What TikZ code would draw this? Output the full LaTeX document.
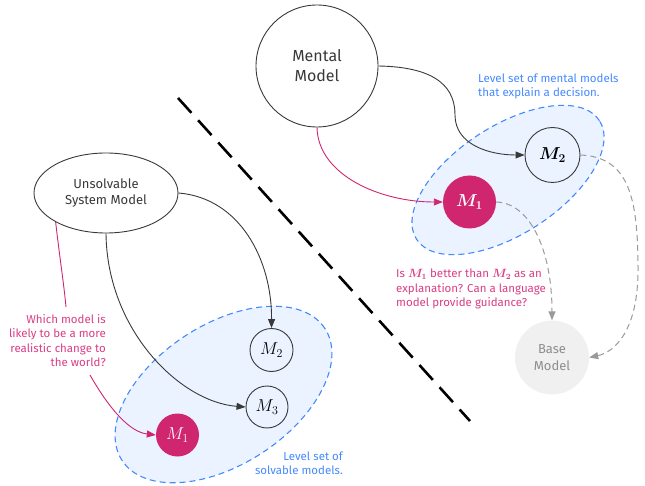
\documentclass[tikz,border=0pt]{standalone}
\usepackage{amsmath}
\usepackage{bm}
\usepackage{fontspec}
\setmainfont{Fira Sans}
\usetikzlibrary{arrows.meta,shapes.geometric}
\definecolor{mymag}{HTML}{D02670}
\definecolor{myblue}{HTML}{4589FF}
\definecolor{myfill}{HTML}{EAF3FF}
\definecolor{linegray}{HTML}{393939}
\definecolor{dashgray}{HTML}{9A9A9A}
\definecolor{basefill}{HTML}{F0F0F0}
\definecolor{basetext}{HTML}{8D8D8D}
\definecolor{pinktxt}{HTML}{DA3D85}
\begin{document}
\begin{tikzpicture}[x=1pt,y=-1pt,
  levelset/.style={ellipse, draw=myblue, fill=myfill, line width=1.1pt, dash pattern=on 6pt off 4pt, inner sep=0pt, rotate=33},
  mcirc/.style={circle, draw=linegray, line width=0.9pt, inner sep=0pt, text=black, font=\fontsize{17}{17}\selectfont},
  mfill/.style={circle, fill=mymag, text=white, inner sep=0pt, font=\fontsize{17}{17}\selectfont},
  bigtext/.style={align=center, text=linegray},
  pinktext/.style={text=pinktxt, inner sep=0pt, font=\fontsize{11.5}{14.5}\selectfont},
  bluetext/.style={text=myblue, inner sep=0pt, font=\fontsize{11.5}{14}\selectfont},
  blk/.style={draw=linegray, line width=0.9pt, -{Triangle[length=9pt,width=7pt]}},
  pinkline/.style={draw=mymag, line width=0.9pt},
  pinkarr/.style={pinkline, -{Triangle[length=9pt,width=7pt]}},
  grayarr/.style={draw=dashgray, line width=1pt, dash pattern=on 6pt off 4pt, -{Triangle[length=9pt,width=7pt]}},
  divider/.style={draw=black, line width=2.6pt, dash pattern=on 20pt off 10pt}
]
\useasboundingbox (0,0) rectangle (645,486);

% level sets
\node[levelset, minimum width=218pt, minimum height=108pt] (lsr) at (508,180) {};
\node[levelset, minimum width=242pt, minimum height=140pt] (lsl) at (223.5,394.5) {};

% big nodes
\node[mcirc, minimum size=122pt, bigtext, font=\fontsize{16}{20}\selectfont] (mm) at (317,66) {Mental\\Model};
\node[ellipse, draw=linegray, line width=0.9pt, minimum width=144pt, minimum height=80pt, inner sep=0pt, bigtext, font=\fontsize{13}{16}\selectfont] (usm) at (106,193) {Unsolvable\\System Model};
\node[circle, fill=basefill, minimum size=74pt, inner sep=0pt, align=center, text=basetext, font=\fontsize{13}{16.5}\selectfont] (base) at (552,357.5) {Base\\Model};

% model circles
\node[mcirc, minimum size=55pt] (m2r) at (552.5,155) {$\bm{M_2}$};
\node[mfill, minimum size=53pt] (m1r) at (469.5,202) {$\bm{M_1}$};
\node[mcirc, minimum size=43pt] (m2l) at (271.5,350) {$M_2$};
\node[mcirc, minimum size=42pt] (m3l) at (267,407) {$M_3$};
\node[mfill, minimum size=43pt] (m1l) at (177.5,435) {$M_1$};

% texts
\node[bluetext, anchor=west, align=left] (tr) at (478,86) {Level set of mental models\\that explain a decision.};
\node[bluetext, anchor=east, align=right] (tl) at (343,463) {Level set of\\solvable models.};
\node[pinktext, anchor=east, align=right] (q1) at (106,340.5) {Which model is\\likely to be a more\\realistic change to\\the world?};
\node[pinktext, anchor=west, align=left] (q2) at (396,289) {Is $\bm{M_1}$ better than $\bm{M_2}$ as an\\explanation? Can a language\\model provide guidance?};

% divider
\coordinate (d1) at (178,98);
\coordinate (d2) at (470,421);
\draw[divider] (d1) -- (d2);

% connectors
\draw[blk] (mm.east) .. controls (440,67) and (455,90) .. (455,115) .. controls (455,145) and (490,155) .. (m2r.west);
\draw[pinkarr] (mm.south) .. controls (318,175) and (380,202) .. (m1r.west);
\draw[grayarr] (m1r.east) .. controls (530,203) and (552,250) .. (base.north);
\draw[grayarr] (m2r.east) .. controls (630,157) and (638,200) .. (638,270) .. controls (638,330) and (615,352) .. (base.east);
\draw[blk] (usm.east) .. controls (240,198) and (272,260) .. (m2l.north);
\draw[blk] (usm.south) .. controls (107,330) and (180,402) .. (m3l.west);
\coordinate (pa) at (66,307);
\coordinate (pb) at (90,375);
\draw[pinkline] (usm.210) .. controls (60,260) and (64,285) .. (pa);
\draw[pinkarr] (pb) .. controls (110,410) and (130,432) .. (m1l.west);
\end{tikzpicture}
\end{document}
